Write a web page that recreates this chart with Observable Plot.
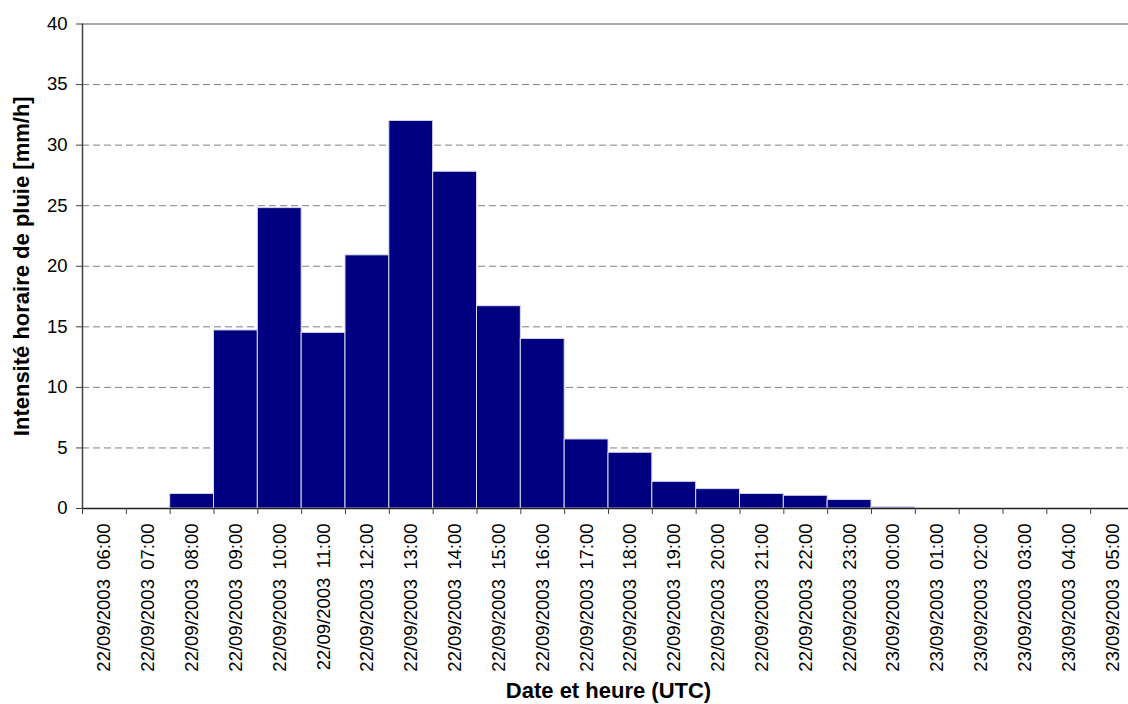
<!DOCTYPE html>
<html><head><meta charset="utf-8">
<script src="https://cdn.jsdelivr.net/npm/d3@7"></script>
<script src="https://cdn.jsdelivr.net/npm/@observablehq/plot@0.6"></script>
<style>
html,body{margin:0;padding:0;background:#fff;overflow:hidden;}
#chart svg{display:block;max-width:none !important;}
g[aria-label="y-axis label"] text, g[aria-label="x-axis label"] text{font-weight:bold;font-size:22px;}
</style></head><body><div id="chart"></div>
<script>
const hours = [
  "22/09/2003 06:00","22/09/2003 07:00","22/09/2003 08:00","22/09/2003 09:00",
  "22/09/2003 10:00","22/09/2003 11:00","22/09/2003 12:00","22/09/2003 13:00",
  "22/09/2003 14:00","22/09/2003 15:00","22/09/2003 16:00","22/09/2003 17:00",
  "22/09/2003 18:00","22/09/2003 19:00","22/09/2003 20:00","22/09/2003 21:00",
  "22/09/2003 22:00","22/09/2003 23:00","23/09/2003 00:00","23/09/2003 01:00",
  "23/09/2003 02:00","23/09/2003 03:00","23/09/2003 04:00","23/09/2003 05:00"
];
const intensity = [0, 0, 1.2, 14.7, 24.8, 14.5, 20.9, 32.0, 27.8, 16.7, 14.0, 5.7,
  4.6, 2.2, 1.6, 1.2, 1.05, 0.7, 0.1, 0, 0, 0, 0, 0];
const yTicks = [0, 5, 10, 15, 20, 25, 30, 35, 40];
const yTitle = "Intensité horaire de pluie [mm/h]";
const xTitle = "Date et heure (UTC)";

const data = hours.map((h, i) => ({i, label: h, value: intensity[i]}));

const plot = Plot.plot({
  width: 1140, height: 704,
  marginLeft: 82, marginRight: 6, marginTop: 23.5, marginBottom: 196,
  style: {fontFamily: "Arial, 'Liberation Sans', sans-serif", fontSize: "18.5px", color: "#000", background: "#fff", overflow: "visible", maxWidth: "none"},
  x: {domain: [0, hours.length]},
  y: {domain: [0, 40]},
  marks: [
    Plot.gridY(yTicks.filter(t => t > 0 && t < 40), {stroke: "#808080", strokeOpacity: 1, strokeDasharray: "7,4"}),
    Plot.ruleY([40], {stroke: "#8c8c8c", strokeWidth: 1.5}),
    Plot.rectY(data, {x1: "i", x2: d => d.i + 1, y: "value", fill: "#000080", stroke: "#d8d8ee", strokeWidth: 1}),
    Plot.ruleX([0], {stroke: "#404040", strokeWidth: 1.5}),
    Plot.ruleY([0], {stroke: "#202020", strokeWidth: 1.5}),
    Plot.axisY({ticks: yTicks, tickSize: 6, tickPadding: 9, stroke: "#404040",
      label: yTitle, labelAnchor: "center", labelArrow: "none", labelOffset: 69}),
    Plot.axisX({ticks: d3.range(hours.length), tickSize: 6, tickFormat: () => "", label: null, stroke: "#404040"}),
    Plot.axisX({ticks: data.map(d => d.i + 0.5), tickSize: 0, tickPadding: 15, tickRotate: -90,
      tickFormat: t => hours[Math.floor(t)].replace(" ", "\u2002"),
      label: xTitle, labelAnchor: "center", labelArrow: "none", labelOffset: 189})
  ]
});
document.getElementById("chart").appendChild(plot);
</script></body></html>
